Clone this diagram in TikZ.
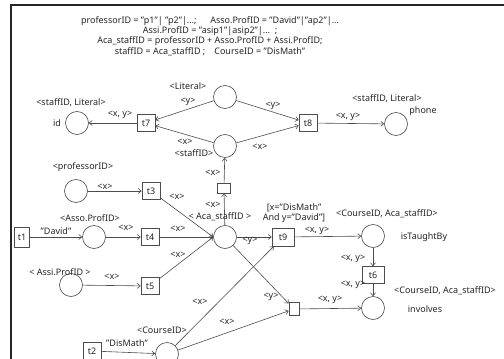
\documentclass[tikz,border=0pt]{standalone}
\usepackage{fontspec}
\setmainfont{Noto Sans}
\usetikzlibrary{arrows.meta}
\begin{document}
\begin{tikzpicture}[x=1pt,y=-1pt,
  every node/.style={font=\fontsize{9}{10.2}\selectfont, text=black!85},
  place/.style={draw=black!70, circle, minimum size=23pt, inner sep=0pt, line width=0.6pt},
  trans/.style={draw=black!70, rectangle, minimum width=18pt, minimum height=17pt, inner sep=0pt, line width=0.6pt},
  lbl/.style={inner sep=0pt},
  arc/.style={draw=black!70, line width=0.6pt, -{Straight Barb[length=3pt,width=5pt]}},
]
\useasboundingbox (0,0) rectangle (504,359);
\fill[white] (0,0) rectangle (504,359);
\draw[line width=2pt, black!85] (11,359) -- (11,5) -- (504,5);

% header text
\node[lbl, align=center] (hdr) at (210,36) {professorID = "p1"| "p2"|...;\quad\ \ Asso.ProfID = "David"|"ap2"|...\\
Assi.ProfID = "asip1"|asip2"|...\ \ ;\\
Aca\_staffID = professorID + Asso.ProfID + Assi.ProfID;\\
staffID = Aca\_staffID ;\quad CourseID = "DisMath"};

% places
\node[place] (Plit) at (225,97) {};
\node[place] (Pstaff) at (225,146) {};
\node[place] (Pid) at (77,123) {};
\node[place] (Pphone) at (396,124) {};
\node[place] (Pprof) at (76,191) {};
\node[place] (Passo) at (94,237) {};
\node[place] (Passi) at (71,285) {};
\node[place] (Paca) at (225,237) {};
\node[place] (Ptaught) at (373,236) {};
\node[place] (Pinv) at (373,308) {};
\node[place] (Pcourse) at (167,354) {};

% transitions
\node[trans] (t7) at (146,123) {t7};
\node[trans] (t8) at (308,123) {t8};
\node[trans] (t3) at (151,191) {t3};
\node[trans] (t4) at (150,237) {t4};
\node[trans] (t5) at (150,286) {t5};
\node[trans, minimum width=15pt, minimum height=20pt] (t1) at (22,237) {t1};
\node[trans, minimum width=22pt, minimum height=18pt] (t9) at (283,237) {t9};
\node[trans, minimum width=22pt, minimum height=17pt] (t6) at (373,275) {t6};
\node[trans, minimum width=13pt, minimum height=10pt] (tb1) at (224,188) {};
\node[trans, minimum width=10pt, minimum height=13pt] (tb2) at (294,309) {};
\node[trans] (t2) at (92,351) {t2};

% arcs
\draw[arc] (t7) -- (Pid);
\draw[arc] (Plit) -- (t7);
\draw[arc] (Pstaff) -- (t7);
\draw[arc] (Plit) -- (t8);
\draw[arc] (Pstaff) -- (t8);
\draw[arc] (t8) -- (Pphone);
\draw[arc] (tb1) -- (Pstaff);
\draw[arc] (Paca) -- (tb1);
\draw[arc] (Pprof) -- (t3);
\draw[arc] (t3) -- (Paca.west);
\draw[arc] (t1) -- (Passo);
\draw[arc] (Passo) -- (t4);
\draw[arc] (t4) -- (Paca.west);
\draw[arc] (Passi) -- (t5);
\draw[arc] (t5) -- (Paca.west);
\draw[arc] (Paca) -- (t9);
\draw[arc] (t9) -- (Ptaught);
\draw[arc] (Pcourse) -- (t9);
\draw[arc] (Paca) -- (tb2);
\draw[arc] (Pcourse) -- (tb2);
\draw[arc] (tb2) -- (Pinv);
\draw[arc] (Ptaught) -- (t6);
\draw[arc] (t6) -- (Pinv);
\draw[arc] (t2) -- (Pcourse);

% labels
\node[lbl] (l1) at (71,103) {<staffID, Literal>};
\node[lbl] (l2) at (57,123) {id};
\node[lbl] (l3) at (120,115) {<x, y>};
\node[lbl] (l4) at (188,86) {<Literal>};
\node[lbl] (l5) at (188,102) {<y>};
\node[lbl] (l6) at (185,142) {<x>};
\node[lbl] (l7) at (194,153) {<staffID>};
\node[lbl] (l8) at (273,106) {<y>};
\node[lbl] (l9) at (260,147) {<x>};
\node[lbl] (l10) at (387,99) {<staffID, Literal>};
\node[lbl] (l11) at (423,111) {phone};
\node[lbl] (l12) at (348,117) {<x, y>};
\node[lbl] (l13) at (213,173) {<x>};
\node[lbl] (l14) at (213,205) {<x>};
\node[lbl] (l15) at (220,217) {< Aca\_staffID >};
\node[lbl, align=center] (l16) at (294,213) {[x="DisMath"\\And y="David"]};
\node[lbl] (l17) at (250,241) {<y>};
\node[lbl] (l18) at (317,231) {<x, y>};
\node[lbl] (l19) at (387,214) {<CourseID, Aca\_staffID>};
\node[lbl] (l20) at (424,237) {isTaughtBy};
\node[lbl] (l21) at (353,259) {<x, y>};
\node[lbl] (l22) at (353,285) {<x, y>};
\node[lbl] (l23) at (445,291) {<CourseID, Aca\_staffID>};
\node[lbl] (l24) at (425,309) {involves};
\node[lbl] (l25) at (330,300) {<x, y>};
\node[lbl] (l26) at (271,297) {<y>};
\node[lbl] (l27) at (83,167) {<professorID>};
\node[lbl] (l28) at (105,187) {<x>};
\node[lbl] (l29) at (177,197) {<x>};
\node[lbl] (l30) at (56,231) {"David"};
\node[lbl] (l31) at (90,218) {<Asso.ProfID>};
\node[lbl] (l32) at (126,228) {<x>};
\node[lbl] (l33) at (178,229) {<x>};
\node[lbl] (l34) at (178,255) {<x>};
\node[lbl] (l35) at (60,272) {< Assi.ProfID >};
\node[lbl] (l36) at (112,277) {<x>};
\node[lbl] (l37) at (200,302) {<x>};
\node[lbl] (l38) at (227,322) {<x>};
\node[lbl] (l39) at (162,330) {<CourseID>};
\node[lbl] (l40) at (127,343) {"DisMath"};
\end{tikzpicture}
\end{document}
